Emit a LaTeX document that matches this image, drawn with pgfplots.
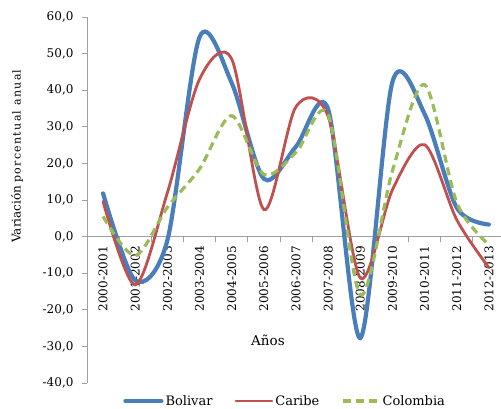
\documentclass[border=0pt]{standalone}
\usepackage{fontspec}
\setmainfont{DejaVu Serif}
\newfontfamily\labfont{DejaVu Serif}
\newfontfamily\labfontsp[LetterSpace=12]{DejaVu Serif}
\usepackage{pgfplots}
\pgfplotsset{compat=1.18}
\definecolor{cBol}{HTML}{4A7EBB}
\definecolor{cCar}{HTML}{C0504D}
\definecolor{cCol}{HTML}{9BBB59}
\definecolor{axgray}{HTML}{A0A0A0}
\pgfplotstableread{
x Bolivar Caribe Colombia
0 11.8 9.6 5.5
1 -12.0 -13.2 -5.2
2 -1.0 12.0 8.0
3 54.5 43.0 18.5
4 42.0 48.5 33.0
5 15.8 7.4 17.0
6 24.6 35.5 23.0
7 34.8 32.8 33.3
8 -27.7 -11.3 -15.9
9 42.3 12.8 18.0
10 33.5 25.1 41.5
11 7.9 4.6 9.3
12 3.3 -8.5 -2.2
}\datatable
\begin{document}
\begin{tikzpicture}
\begin{axis}[
  name=ax, at={(0,0)}, anchor=south west,
  scale only axis, width=418pt, height=366pt,
  xmin=-0.5, xmax=12.5, ymin=-40, ymax=60,
  axis x line*=middle, axis y line*=left,
  axis line style={draw=axgray, line width=0.8pt},
  every tick/.style={draw=axgray, line width=0.8pt},
  tick align=outside,
  major tick length=5pt, minor tick length=5pt,
  ytick={-40,-30,...,60},
  yticklabels={{-40,0},{-30,0},{-20,0},{-10,0},{0,0},{10,0},{20,0},{30,0},{40,0},{50,0},{60,0}},
  yticklabel style={font=\fontsize{12}{12}\selectfont, xshift=-5pt},
  xtick={0,...,12},
  xticklabels={2000-2001,2001-2002,2002-2003,2003-2004,2004-2005,2005-2006,2006-2007,2007-2008,2008-2009,2009-2010,2010-2011,2011-2012,2012-2013},
  major x tick style={draw=none},
  minor xtick={0.5,1.5,...,11.5},
  xticklabel style={rotate=90, anchor=east, font=\fontsize{12}{12}\selectfont, xshift=-1pt},
  xlabel={Años},
  xlabel style={at={(axis description cs:0.433,0.1175)}, anchor=center, font=\fontsize{13.5}{13.5}\selectfont},
  ylabel={{\labfont\fontsize{12}{12}\selectfont Variación}\hspace{3pt}{\labfontsp\fontsize{11}{11}\selectfont porcentual anual}},
  ylabel style={at={(axis description cs:-0.1675,0.62)}, anchor=center, rotate=0},
  legend style={at={(0.474,0)}, anchor=center, yshift=-18pt, draw=none, fill=none,
    legend columns=3, font=\fontsize{13}{13}\selectfont,
    /tikz/every even column/.append style={column sep=20pt}},
  legend image code/.code={\draw[#1] (0pt,0pt) -- (36pt,0pt);},
  clip=false,
]
\addplot[cBol, line width=4.2pt, smooth, tension=0.5, line cap=round] table[x=x, y=Bolivar] {\datatable};
\addlegendentry{Bolivar}
\addplot[cCar, line width=2.8pt, smooth, tension=0.5, line cap=round] table[x=x, y=Caribe] {\datatable};
\addlegendentry{Caribe}
\addplot[cCol, line width=3.2pt, smooth, tension=0.5, dash pattern=on 8pt off 5pt] table[x=x, y=Colombia] {\datatable};
\addlegendentry{Colombia}
\end{axis}
\pgfresetboundingbox
\useasboundingbox (-87pt,-25pt) rectangle (414pt,383pt);
\end{tikzpicture}
\end{document}
